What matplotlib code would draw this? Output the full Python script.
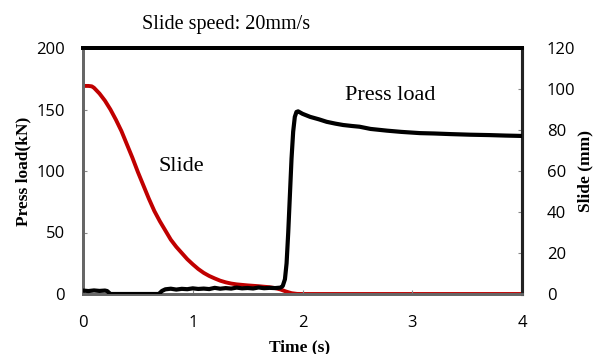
import matplotlib
matplotlib.use("Agg")
import matplotlib.pyplot as plt

# Slide displacement (mm, right axis)
slide_t = [0.0, 0.05, 0.08, 0.1, 0.15, 0.2, 0.25, 0.3, 0.35, 0.4, 0.45, 0.5, 0.55, 0.6, 0.65, 0.7,
           0.75, 0.8, 0.85, 0.9, 0.95, 1.0, 1.05, 1.1, 1.15, 1.2, 1.25, 1.3, 1.35, 1.4, 1.5,
           1.6, 1.7, 1.75, 1.8, 1.85, 1.9, 1.95, 2.0, 4.0]
slide_mm = [101.5, 101.5, 101.3, 100.6, 97.8, 94.3, 90.0, 85.0, 79.5, 73.0, 66.5, 59.5, 53.0, 46.5, 40.5, 35.5,
            31.0, 26.5, 23.0, 20.0, 17.0, 14.5, 12.2, 10.3, 8.8, 7.6, 6.5, 5.7, 5.1, 4.7, 4.2,
            3.8, 3.3, 2.9, 2.2, 1.2, 0.4, 0.05, 0.0, 0.0]

# Press load (kN, left axis)
load_t = [0.0, 0.05, 0.1, 0.15, 0.2, 0.22, 0.25, 0.4, 0.6, 0.69, 0.72, 0.75, 0.8, 0.85, 0.9, 0.95,
          1.0, 1.05, 1.1, 1.15, 1.2, 1.25, 1.3, 1.35, 1.4, 1.45, 1.5, 1.55, 1.6, 1.65, 1.7, 1.75,
          1.8, 1.82, 1.84, 1.855, 1.87, 1.885, 1.9, 1.915, 1.93, 1.945, 1.96, 1.98, 2.0, 2.07,
          2.15, 2.22, 2.3, 2.37, 2.45, 2.52, 2.62, 2.77, 2.9, 3.07, 3.2, 3.35, 3.53, 3.7, 3.85, 4.0]
load_kN = [2.8, 2.4, 2.9, 2.5, 2.8, 2.4, 0.0, 0.0, 0.0, 0.0, 2.5, 3.8, 4.3, 3.6, 4.2, 3.9,
           4.6, 4.1, 4.4, 4.0, 5.0, 4.3, 4.8, 4.4, 5.2, 4.6, 4.9, 4.5, 5.3, 4.7, 5.0, 4.8,
           5.2, 6.5, 12.0, 25.0, 50.0, 80.0, 110.0, 132.0, 144.0, 148.0, 148.5, 147.5, 146.5, 144.0,
           142.0, 140.0, 138.5, 137.4, 136.6, 136.0, 134.2, 132.8, 131.8, 130.8, 130.5, 130.0, 129.5, 129.2, 128.8, 128.5]

xticks = [0, 1, 2, 3, 4]
left_ticks = [0, 50, 100, 150, 200]
right_ticks = [0, 20, 40, 60, 80, 100, 120]

W, H = 600, 354
fig = plt.figure(figsize=(W/100, H/100), dpi=100)
ax = fig.add_axes([83/W, 1-294/H, (522-83)/W, (294-48)/H])
ax2 = ax.twinx()

tickfont = "Open Sans"
serif = "Liberation Serif"

ax.plot(load_t, load_kN, color="black", lw=3.0, zorder=3, solid_joinstyle="round")
ax2.plot(slide_t, slide_mm, color="#C00000", lw=2.8, zorder=2, solid_joinstyle="round")
ax.set_zorder(ax2.get_zorder() + 1)
ax.patch.set_visible(False)

ax.set_xlim(0, 4)
ax.set_ylim(0, 200)
ax2.set_ylim(0, 120)
ax.set_xticks(xticks)
ax.set_yticks(left_ticks)
ax2.set_yticks(right_ticks)

for a in (ax, ax2):
    a.tick_params(direction="in", length=3, width=0.8, color="#888888", labelsize=12)
    for lab in a.get_xticklabels() + a.get_yticklabels():
        lab.set_fontfamily(tickfont)
ax.tick_params(axis="x", pad=15)
ax.tick_params(axis="y", pad=13)
ax2.tick_params(axis="y", pad=18)

for a in (ax, ax2):
    a.spines["left"].set_color("#666666")
    a.spines["left"].set_linewidth(2)
    a.spines["bottom"].set_color("#666666")
    a.spines["bottom"].set_linewidth(2)
    a.spines["top"].set_color("black")
    a.spines["top"].set_linewidth(2.8)
    a.spines["right"].set_color("#222222")
    a.spines["right"].set_linewidth(2.2)

lab_kw = dict(fontfamily=serif, fontweight="bold", fontsize=12.5)
ax.set_xlabel("Time (s)", **lab_kw)
ax.set_ylabel("Press load(kN)", **lab_kw)
ax2.set_ylabel("Slide (mm)", **lab_kw)
ax.xaxis.set_label_coords(300/W, 1-347/H, transform=fig.transFigure)
ax.xaxis.label.set_va("center")
ax.yaxis.set_label_coords(23/W, 1-171/H, transform=fig.transFigure)
ax.yaxis.label.set_va("center")
ax2.yaxis.set_label_coords(585/W, 1-171/H, transform=fig.transFigure)
ax2.yaxis.label.set_va("center")

fig.text(226/W, 1-24/H, "Slide speed: 20mm/s", fontfamily=serif, fontsize=14.5, ha="center", va="center")
ax.text(0.90, 104, "Slide", fontfamily=serif, fontsize=16, ha="center", va="center")
ax.text(2.80, 161, "Press load", fontfamily=serif, fontsize=16, ha="center", va="center")

fig.savefig("out.png", dpi=100)
